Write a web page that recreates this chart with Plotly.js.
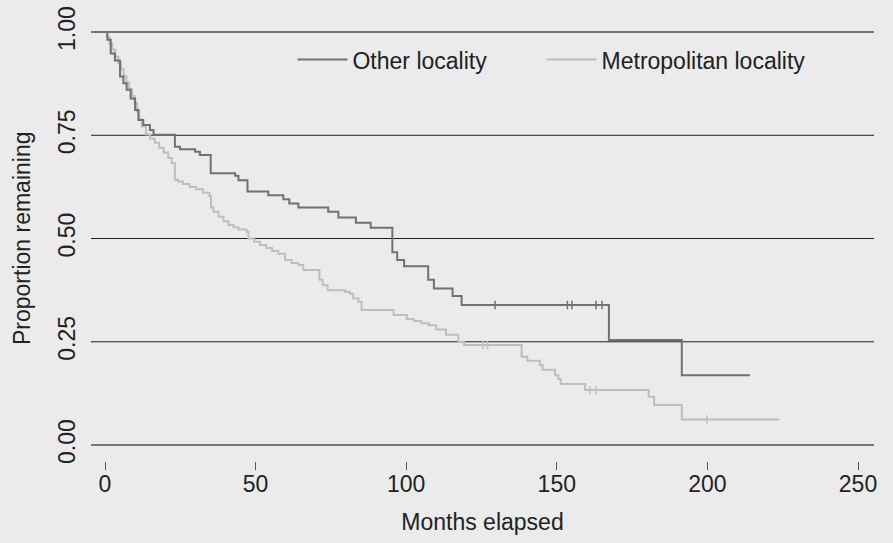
<!DOCTYPE html>
<html>
<head>
<meta charset="utf-8">
<script src="https://cdn.plot.ly/plotly-3.0.1.min.js"></script>
<style>html,body{margin:0;padding:0;background:#ebebeb;}#chart{width:893px;height:543px;}</style>
</head>
<body>
<div id="chart"></div>
<script>
// ---- data ----
const seriesNames = ["Other locality", "Metropolitan locality"];

const otherTime = [0, 0.8, 1.9, 3.3, 5.0, 6.1, 7.2, 8.5, 10.0, 11.1, 12.7, 14.9, 16.1, 23.2, 24.9, 29.9, 31.5, 35.1, 43.2, 44.3, 47.3, 54.2, 59.2, 61.2, 64.2, 74.1, 77.5, 83.3, 88.2, 95.4, 97.0, 99.3, 107.3, 109.2, 115.4, 118.4, 167.3, 191.5, 214.1];
const otherSurv = [1.0, 0.981, 0.948, 0.931, 0.892, 0.876, 0.860, 0.839, 0.811, 0.787, 0.775, 0.763, 0.751, 0.722, 0.716, 0.710, 0.702, 0.658, 0.652, 0.641, 0.614, 0.605, 0.595, 0.585, 0.575, 0.565, 0.551, 0.538, 0.526, 0.467, 0.448, 0.433, 0.400, 0.379, 0.361, 0.339, 0.254, 0.169, 0.169];
const otherCensor = [129.5, 153.5, 155.0, 163.0, 165.0];

const metroTime = [0, 0.6, 1.5, 2.4, 3.4, 4.4, 5.3, 6.2, 7.1, 8.0, 9.0, 9.8, 10.6, 11.3, 12.2, 13.6, 15.0, 16.5, 18.0, 19.5, 21.0, 22.2, 23.2, 24.3, 25.9, 28.1, 30.3, 32.5, 34.7, 35.2, 36.0, 37.7, 39.3, 41.0, 42.7, 44.3, 47.0, 47.6, 49.5, 51.5, 53.5, 55.5, 57.5, 59.8, 62.0, 64.2, 65.8, 71.2, 72.3, 73.9, 79.7, 81.3, 82.4, 84.1, 85.2, 95.8, 100.2, 102.5, 105.0, 107.5, 110.0, 113.2, 117.3, 119.2, 138.3, 140.2, 144.4, 145.3, 149.4, 150.5, 151.3, 159.4, 180.5, 182.3, 191.5, 223.9];
const metroSurv = [1.0, 0.988, 0.972, 0.957, 0.940, 0.925, 0.910, 0.893, 0.878, 0.862, 0.845, 0.828, 0.808, 0.788, 0.771, 0.752, 0.742, 0.732, 0.720, 0.708, 0.695, 0.682, 0.642, 0.638, 0.632, 0.625, 0.619, 0.611, 0.603, 0.575, 0.565, 0.553, 0.542, 0.533, 0.527, 0.522, 0.516, 0.500, 0.492, 0.484, 0.477, 0.470, 0.463, 0.448, 0.441, 0.436, 0.424, 0.400, 0.387, 0.375, 0.371, 0.366, 0.355, 0.347, 0.327, 0.315, 0.305, 0.300, 0.295, 0.290, 0.280, 0.267, 0.250, 0.242, 0.214, 0.204, 0.194, 0.182, 0.169, 0.160, 0.148, 0.133, 0.117, 0.097, 0.062, 0.062];
const metroCensor = [125.5, 127.0, 161.0, 163.0, 199.8];

const xTicks = [0, 50, 100, 150, 200, 250];
const yTicks = [0, 0.25, 0.5, 0.75, 1.0];
const yTickText = ["0.00", "0.25", "0.50", "0.75", "1.00"];
const xTitle = "Months elapsed";
const yTitle = "Proportion remaining";

// ---- helpers ----
function stepAt(times, surv, t) {
  let v = surv[0];
  for (let i = 0; i < times.length; i++) { if (times[i] <= t) v = surv[i]; }
  return v;
}

const darkCol = "#717171";
const lightCol = "#bebebe";
const fontFam = "Liberation Sans, Arial, sans-serif";
const fs = 23;

const traces = [
  {x: metroTime, y: metroSurv, type: "scatter", mode: "lines", line: {shape: "hv", color: lightCol, width: 2}, name: seriesNames[1], legend: "legend2"},
  {x: metroCensor, y: metroCensor.map(t => stepAt(metroTime, metroSurv, t)), type: "scatter", mode: "markers", marker: {symbol: "line-ns-open", size: 6, color: lightCol, line: {color: lightCol, width: 1.5}}, showlegend: false, hoverinfo: "skip"},
  {x: otherTime, y: otherSurv, type: "scatter", mode: "lines", line: {shape: "hv", color: darkCol, width: 2}, name: seriesNames[0], legend: "legend"},
  {x: otherCensor, y: otherCensor.map(t => stepAt(otherTime, otherSurv, t)), type: "scatter", mode: "markers", marker: {symbol: "line-ns-open", size: 6, color: darkCol, line: {color: darkCol, width: 1.5}}, showlegend: false, hoverinfo: "skip"}
];

const shapes = yTicks.map(v => ({
  type: "line", xref: "paper", x0: 0, x1: 1, yref: "y", y0: v, y1: v,
  line: {color: (v === 0 || v === 1) ? "#777777" : "#1e1e1e", width: (v === 0 || v === 1) ? 2 : 1},
  layer: "below"
}));

const legendBase = {orientation: "h", xanchor: "left", y: 0.9, yanchor: "middle", bgcolor: "rgba(0,0,0,0)", itemwidth: 50, font: {size: fs}};

const layout = {
  width: 893, height: 543,
  paper_bgcolor: "#ebebeb", plot_bgcolor: "#ebebeb",
  margin: {l: 91, r: 19, t: 15, b: 82, pad: 0},
  font: {family: fontFam, size: fs, color: "#222222"},
  showlegend: true,
  legend: Object.assign({}, legendBase, {x: 0.2573}),
  legend2: Object.assign({}, legendBase, {x: 0.5754}),
  xaxis: {
    range: [-4.648, 255.31], tickvals: xTicks, ticktext: xTicks.map(String),
    ticks: "outside", ticklen: 8, tickwidth: 1, tickcolor: "#555555",
    showgrid: false, zeroline: false, showline: false,
    tickfont: {size: fs}, ticklabelstandoff: -6,
    title: {text: xTitle, font: {size: fs}, standoff: 18}
  },
  yaxis: {
    range: [-0.0387, 1.0412], tickvals: yTicks, ticktext: yTickText,
    tickangle: -90, ticks: "", showgrid: false, zeroline: false, showline: false,
    tickfont: {size: fs}, ticklabelstandoff: 10
  },
  annotations: [{
    text: yTitle, xref: "paper", yref: "paper", x: -0.0881, y: 0.5,
    xanchor: "center", yanchor: "middle", textangle: -90, showarrow: false,
    font: {size: fs, family: fontFam, color: "#222222"}
  }],
  shapes: shapes
};

Plotly.newPlot("chart", traces, layout, {displayModeBar: false, staticPlot: true});
</script>
</body>
</html>
